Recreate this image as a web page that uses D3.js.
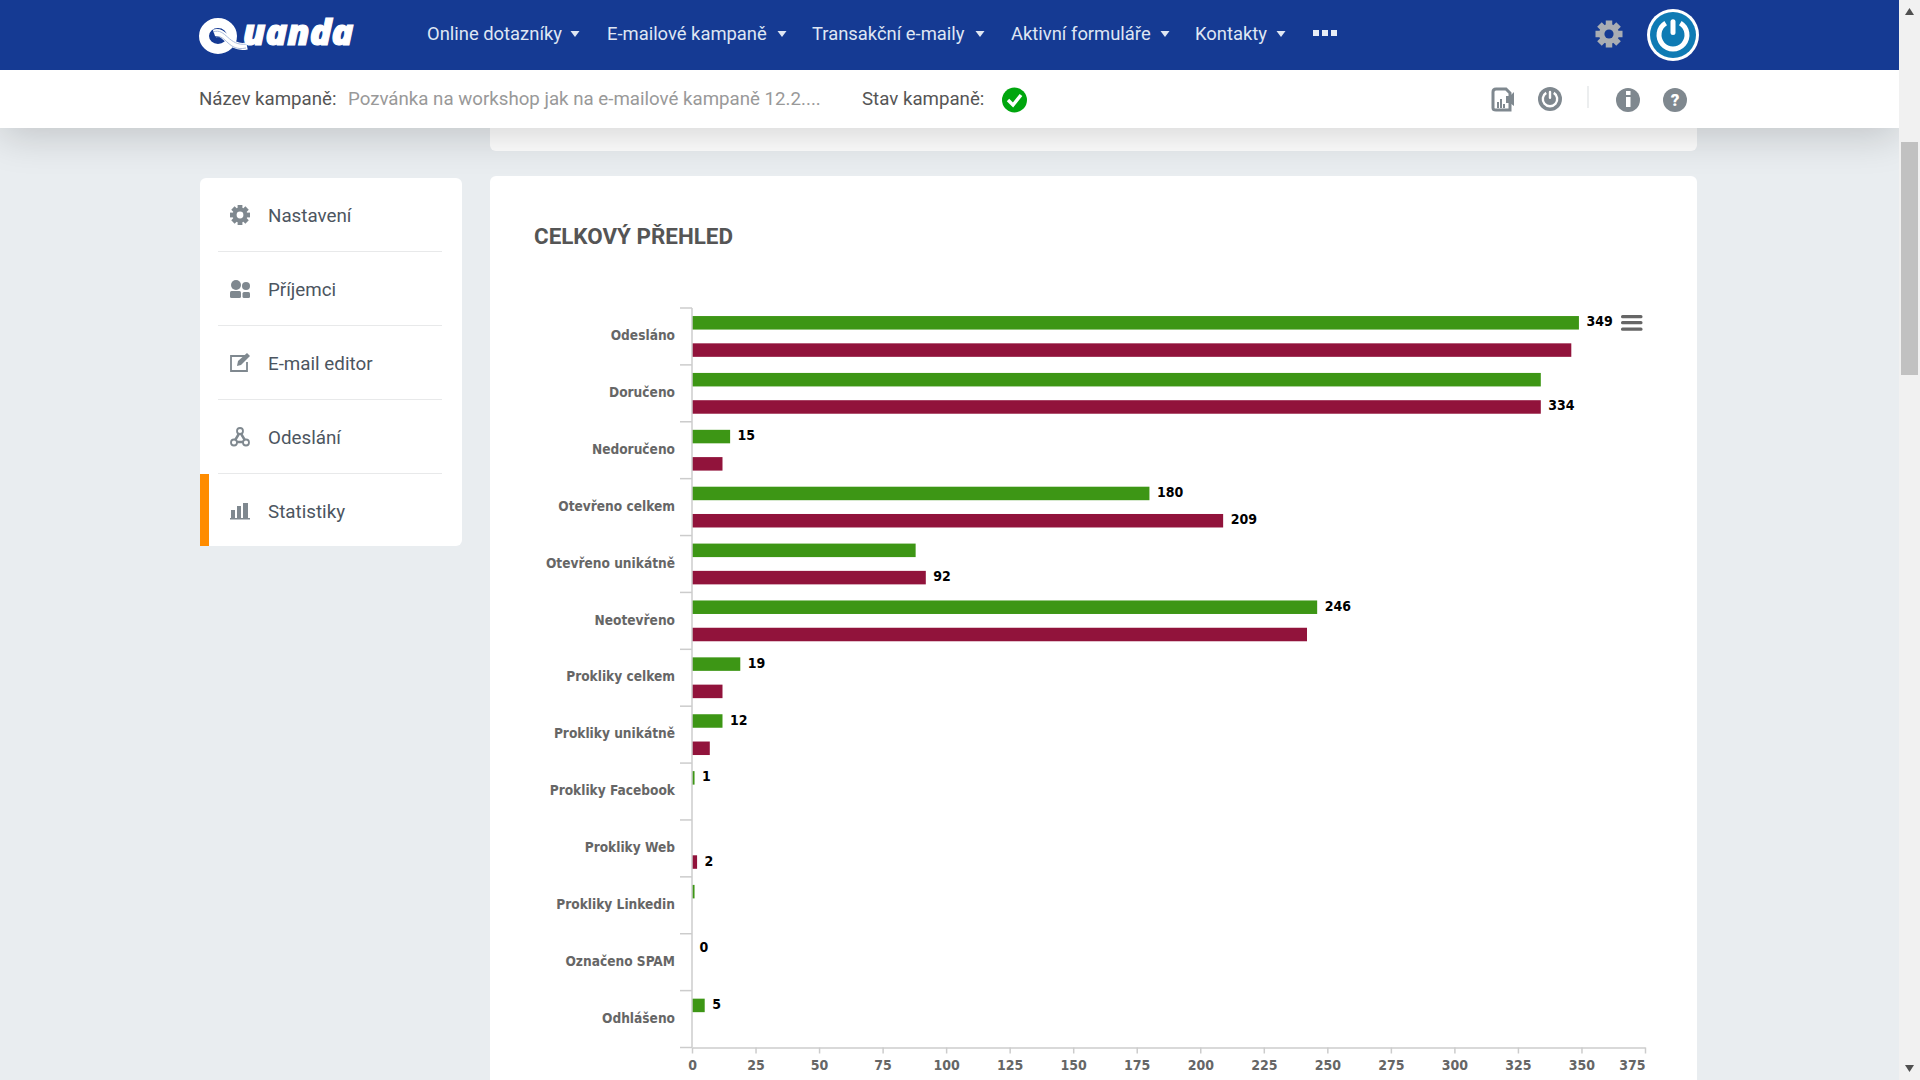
<!DOCTYPE html>
<meta charset="utf-8">
<title>Celkový přehled</title>
<style>

body { margin: 0; overflow: hidden; background: #e9edf0; }
svg { display: block; }
text { font-family: Roboto, sans-serif; }
.chart text { font-family: "DejaVu Sans Condensed", "DejaVu Sans", sans-serif; font-stretch: condensed; font-weight: bold; }

</style>
<body>
<script src="https://cdn.jsdelivr.net/npm/d3@7/dist/d3.min.js"></script>
<script>

var categories = ["Odesláno", "Doručeno", "Nedoručeno", "Otevřeno celkem", "Otevřeno unikátně", "Neotevřeno",
      "Prokliky celkem", "Prokliky unikátně", "Prokliky Facebook", "Prokliky Web", "Prokliky Linkedin", "Označeno SPAM", "Odhlášeno"],
    series = ["green", "maroon"],
    greenValues = [349, 334, 15, 180, 88, 246, 19, 12, 1, 0, 1, 0, 5],
    maroonValues = [346, 334, 12, 209, 92, 242, 12, 7, 0, 2, 0, 0, 0],
    // highcharts hid the overlapping labels, so only these are shown
    greenLabels = [349, null, 15, 180, null, 246, 19, 12, 1, null, null, 0, 5],
    maroonLabels = [null, 334, null, 209, 92, null, null, null, null, 2, null, null, null],
    xTicks = [0, 25, 50, 75, 100, 125, 150, 175, 200, 225, 250, 275, 300, 325, 350, 375],
    navItems = ["Online dotazníky", "E-mailové kampaně", "Transakční e-maily", "Aktivní formuláře", "Kontakty"],
    sideItems = ["Nastavení", "Příjemci", "E-mail editor", "Odeslání", "Statistiky"];

var navX = [427, 607, 812, 1011, 1195],
    caretX = [575, 782, 980, 1165, 1281],
    sideY = [215, 289, 363, 437, 511];

var svg = d3.select("body").append("svg")
    .attr("width", 1920)
    .attr("height", 1080);

svg.append("defs").append("filter")
    .attr("id", "blur")
    .attr("x", "-5%").attr("y", "-100%").attr("width", "110%").attr("height", "300%")
  .append("feGaussianBlur")
    .attr("stdDeviation", 20);

function rect(g, x, y, w, h, fill, r) {
  return g.append("rect").attr("x", x).attr("y", y).attr("width", w).attr("height", h)
      .attr("fill", fill).attr("rx", r || 0);
}

function gear(g, cx, cy, r, col, hole) {
  var n = g.append("g").attr("transform", "translate(" + cx + "," + cy + ")");
  n.selectAll("rect").data(d3.range(8)).enter().append("rect")
      .attr("x", -r * .24).attr("y", -r).attr("width", r * .48).attr("height", r * 2 * .5)
      .attr("fill", col)
      .attr("transform", function(d) { return "rotate(" + d * 45 + ")"; });
  n.append("circle").attr("r", r * .74).attr("fill", col);
  n.append("circle").attr("r", r * .34).attr("fill", hole);
}

function power(g, cx, cy, r, col, line, w) {
  g.append("circle").attr("cx", cx).attr("cy", cy).attr("r", r).attr("fill", col);
  g.append("path")
      .attr("d", d3.arc().innerRadius(r * .5).outerRadius(r * .5 + w).startAngle(.55).endAngle(2 * Math.PI - .55)())
      .attr("transform", "translate(" + cx + "," + cy + ")")
      .attr("fill", line);
  rect(g, cx - w / 2, cy - r * .68, w, r * .68, line, w / 2);
}

// page background bits
rect(svg, 490, 120, 1207, 31, "#fff", 6);
rect(svg, 0, 80, 1899, 56, "#000").attr("opacity", .17).attr("filter", "url(#blur)");
rect(svg, 490, 176, 1207, 920, "#fff", 6);
rect(svg, 200, 178, 262, 368, "#fff", 6);

// top bar
rect(svg, 0, 0, 1899, 70, "#153a93");
rect(svg, 0, 70, 1899, 58, "#fff");

var logo = svg.append("g");
logo.append("ellipse")
    .attr("cx", 218).attr("cy", 36).attr("rx", 14).attr("ry", 13)
    .attr("fill", "none").attr("stroke", "#fff").attr("stroke-width", 10);
logo.append("path")
    .attr("d", "M214 33C226 29 228 50 247 46")
    .attr("fill", "none").attr("stroke", "#fff").attr("stroke-width", 7);
logo.append("path")
    .attr("d", "M213 32C226 27 228 47 247 44M216 37C226 34 228 52 246 48")
    .attr("fill", "none").attr("stroke", "#9fb2d6").attr("stroke-width", .9);
logo.append("text")
    .attr("x", 243).attr("y", 45)
    .attr("fill", "#fff").attr("stroke", "#fff").attr("stroke-width", 1.2)
    .style("font-family", "'Open Sans'").style("font-style", "italic").style("font-weight", 800).style("font-size", "36px")
    .text("uanda");

svg.selectAll(".nav").data(navItems).enter().append("text")
    .attr("class", "nav")
    .attr("x", function(d, i) { return navX[i]; })
    .attr("y", 39.5)
    .attr("fill", "#dfe6f3")
    .style("font-size", "18.4px")
    .text(function(d) { return d; });

svg.selectAll(".caret").data(caretX).enter().append("path")
    .attr("class", "caret")
    .attr("d", function(d) { return "M" + (d - 4.5) + " 31L" + (d + 4.5) + " 31L" + d + " 37Z"; })
    .attr("fill", "#dfe6f3");

d3.range(3).forEach(function(i) { rect(svg, 1313 + i * 9, 30, 6, 6, "#e8edf6"); });

gear(svg, 1609, 34, 13.5, "#a9adb3", "#153a93");
svg.append("circle").attr("cx", 1673).attr("cy", 35).attr("r", 26).attr("fill", "#fff");
power(svg, 1673, 35, 23, "#0f7bb4", "#fff", 5);

svg.append("text").attr("x", 199).attr("y", 105).attr("fill", "#555").style("font-size", "18.7px").text("Název kampaně:");
svg.append("text").attr("x", 348).attr("y", 105).attr("fill", "#999").style("font-size", "18.7px").text("Pozvánka na workshop jak na e-mailové kampaně 12.2....");
svg.append("text").attr("x", 862).attr("y", 105).attr("fill", "#555").style("font-size", "18.7px").text("Stav kampaně:");

svg.append("circle").attr("cx", 1014.5).attr("cy", 100).attr("r", 12.5).attr("fill", "#00a60e");
svg.append("path").attr("d", "M1008 100L1013 105L1021 95").attr("fill", "none").attr("stroke", "#fff").attr("stroke-width", 3.4);

// toolbar icons
svg.append("path").attr("d", "M1493 92Q1493 89 1496 89H1506L1510 93V110H1496Q1493 110 1493 108Z")
    .attr("fill", "#fff").attr("stroke", "#7f888f").attr("stroke-width", 3);
rect(svg, 1497, 102, 2, 6, "#7f888f");
rect(svg, 1500, 99, 2, 9, "#7f888f");
rect(svg, 1503, 104, 2, 4, "#7f888f");
svg.append("path").attr("d", "M1506 96H1510L1514 92V106L1510 103H1506Z").attr("fill", "#7f888f");
power(svg, 1550, 99, 12, "#7f888f", "#fff", 2.4);
rect(svg, 1587, 86, 2, 22, "#eceeef");
svg.append("circle").attr("cx", 1628).attr("cy", 100).attr("r", 12).attr("fill", "#7f888f");
rect(svg, 1626, 97, 4.5, 10, "#fff");
rect(svg, 1626, 91, 4.5, 4, "#fff");
svg.append("circle").attr("cx", 1675).attr("cy", 100).attr("r", 12).attr("fill", "#7f888f");
svg.append("text").attr("x", 1675).attr("y", 106).attr("text-anchor", "middle").attr("fill", "#fff")
    .style("font-size", "17px").style("font-weight", 900).text("?");

// scrollbar
rect(svg, 1899, 0, 21, 1080, "#f1f1f1");
rect(svg, 1901, 142, 17, 233, "#c1c1c1");
svg.append("path").attr("d", "M1905 15L1914 15L1909.5 8Z").attr("fill", "#505050");
svg.append("path").attr("d", "M1905 1065L1914 1065L1909.5 1072Z").attr("fill", "#505050");

// side menu
rect(svg, 200, 474, 9, 72, "#ff8c00");

svg.selectAll(".divider").data(sideY.slice(0, 4)).enter().append("rect")
    .attr("class", "divider")
    .attr("x", 218).attr("y", function(d) { return d + 36; })
    .attr("width", 224).attr("height", 1)
    .attr("fill", "#e8e9ea");

svg.selectAll(".side").data(sideItems).enter().append("text")
    .attr("class", "side")
    .attr("x", 268)
    .attr("y", function(d, i) { return sideY[i] + 6.5; })
    .attr("fill", "#4c5560")
    .style("font-size", "18.8px")
    .text(function(d) { return d; });

var iconCol = "#7f888f";
gear(svg, 240, 215, 10, iconCol, "#fff");

svg.append("circle").attr("cx", 236).attr("cy", 285).attr("r", 5).attr("fill", iconCol);
svg.append("circle").attr("cx", 246).attr("cy", 286).attr("r", 4).attr("fill", iconCol);
rect(svg, 230, 291, 11, 7, iconCol, 1.5);
rect(svg, 242.5, 292, 7.5, 6, iconCol, 1.5);

svg.append("path").attr("d", "M248 356H231V371H247V362").attr("fill", "none").attr("stroke", iconCol).attr("stroke-width", 1.8);
svg.append("path").attr("d", "M237 366L238 361L247 353L250 356L241 365Z").attr("fill", iconCol);

svg.append("path").attr("d", "M240 432L234 442H246Z").attr("fill", "none").attr("stroke", iconCol).attr("stroke-width", 2.5);
[[240, 431], [234, 442.5], [246, 442.5]].forEach(function(p) {
  svg.append("circle").attr("cx", p[0]).attr("cy", p[1]).attr("r", 3).attr("fill", "#fff").attr("stroke", iconCol).attr("stroke-width", 1.8);
});

rect(svg, 231, 510, 4, 8, iconCol);
rect(svg, 237, 506, 4, 12, iconCol);
rect(svg, 243, 503, 5, 15, iconCol);
rect(svg, 230, 518, 20, 1.5, iconCol);

svg.append("text")
    .attr("x", 534).attr("y", 244)
    .attr("fill", "#555")
    .style("font-size", "22.4px").style("font-weight", 700)
    .text("CELKOVÝ PŘEHLED");

// chart
var x = d3.scaleLinear().domain([0, 375]).range([692, 1645]),
    y = d3.scaleBand().domain(categories).range([308, 1047.5]),
    ySeries = d3.scaleBand().domain(series).range([0, y.bandwidth()]).paddingInner(.505).paddingOuter(.295);

var chart = svg.append("g").attr("class", "chart");

var groups = chart.selectAll(".group")
    .data(categories.map(function(c, i) {
      return {
        name: c,
        bars: [
          {key: "green", value: greenValues[i], label: greenLabels[i], color: "#3d9615"},
          {key: "maroon", value: maroonValues[i], label: maroonLabels[i], color: "#91133b"}
        ]
      };
    }))
  .enter().append("g")
    .attr("class", "group")
    .attr("transform", function(d) { return "translate(0," + y(d.name) + ")"; });

groups.selectAll("rect")
    .data(function(d) { return d.bars; })
  .enter().append("rect")
    .attr("x", x(0))
    .attr("y", function(d) { return ySeries(d.key); })
    .attr("width", function(d) { return x(d.value) - x(0); })
    .attr("height", ySeries.bandwidth())
    .attr("fill", function(d) { return d.color; });

groups.selectAll("text")
    .data(function(d) { return d.bars.filter(function(b) { return b.label !== null; }); })
  .enter().append("text")
    .attr("x", function(d) { return x(d.value) + 7.5; })
    .attr("y", function(d) { return ySeries(d.key) + ySeries.bandwidth() / 2 - 1.5; })
    .attr("dy", ".36em")
    .attr("fill", "#000")
    .style("font-size", "14px")
    .text(function(d) { return d.label; });

var yAxis = chart.append("g")
    .attr("transform", "translate(692,-0.7)")
    .call(d3.axisLeft(y).tickSize(0).tickPadding(17));

yAxis.select(".domain").remove();
yAxis.selectAll("text").attr("fill", "#666").style("font-size", "13.6px");

chart.append("line")
    .attr("x1", 692).attr("x2", 692)
    .attr("y1", 308).attr("y2", 1047.5)
    .attr("stroke", "#ccc")
    .attr("stroke-width", 1.5);

chart.selectAll(".band-tick")
    .data(categories.concat("end"))
  .enter().append("line")
    .attr("class", "band-tick")
    .attr("x1", 680).attr("x2", 692)
    .attr("y1", function(d, i) { return y.step() * i + 308; })
    .attr("y2", function(d, i) { return y.step() * i + 308; })
    .attr("stroke", "#ccc")
    .attr("stroke-width", 1.5);

var xAxis = chart.append("g")
    .attr("transform", "translate(0,1047.5)")
    .call(d3.axisBottom(x).tickValues(xTicks).tickSize(6).tickSizeOuter(0).tickPadding(7));

xAxis.select(".domain").attr("stroke", "#ccc").attr("stroke-width", 1.5);
xAxis.selectAll("line").attr("stroke", "#ccc").attr("stroke-width", 1.5);
xAxis.selectAll("text").attr("fill", "#666").style("font-size", "14px");
xAxis.selectAll(".tick").filter(function(d) { return d === 375; }).select("text").attr("text-anchor", "end");

// export menu button
[315, 321, 327.5].forEach(function(d) { rect(svg, 1621, d, 21.5, 3.2, "#666", 1.5); });

</script>
